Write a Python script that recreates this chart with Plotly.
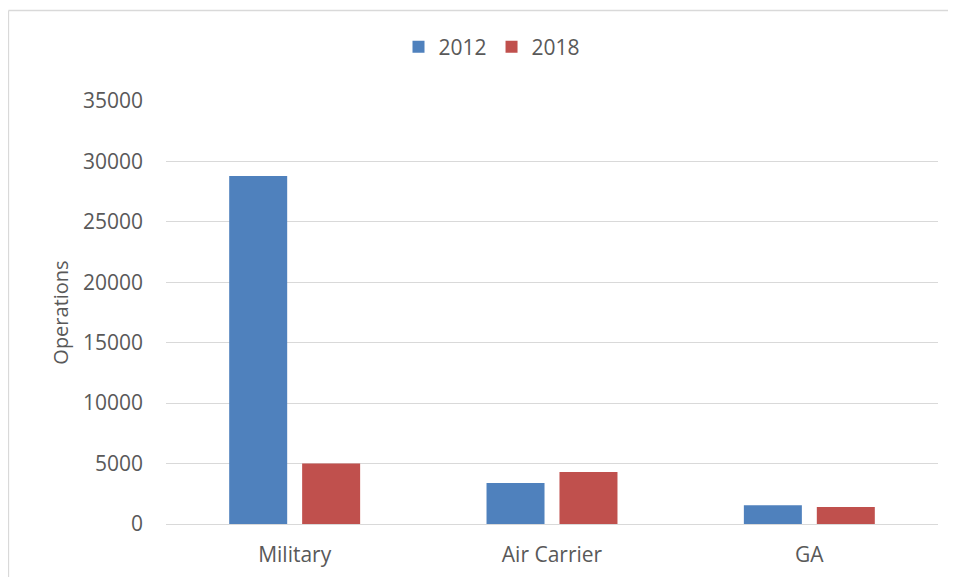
import plotly.graph_objects as go

categories = ["Military", "Air Carrier", "GA"]
series_names = ["2012", "2018"]
values_2012 = [28800, 3400, 1550]
values_2018 = [5000, 4300, 1400]
y_ticks = [0, 5000, 10000, 15000, 20000, 25000, 30000, 35000]
colors = ["#4f81bd", "#c0504d"]

OFF = 8  # page body margin
W, H = 956 - 2 * OFF, 585 - 2 * OFF
# target plot area in page pixels: x 166..938, y 101..524
L = 166 - OFF
T = 101 - OFF
R = W - (938 - OFF)
B = H - (524 - OFF)
pw, ph = W - L - R, H - T - B

def px(x):
    return (x - OFF - L) / pw

def py(y):
    return (H - B - (y - OFF)) / ph

fig = go.Figure()
for name, vals, col in zip(series_names, [values_2012, values_2018], colors):
    fig.add_trace(go.Bar(x=categories, y=vals, name=name, marker_color=col,
                         marker_line_width=0))

font = dict(family="Open Sans", size=21, color="#595959")
title_font = dict(family="Open Sans", size=20, color="#595959")

fig.update_layout(
    width=W, height=H,
    margin=dict(l=L, r=R, t=T, b=B, pad=0),
    paper_bgcolor="white", plot_bgcolor="white",
    font=font,
    barmode="group", bargap=0.433, bargroupgap=0.205,
    showlegend=True,
    legend=dict(orientation="h", x=px(492), y=py(47), xanchor="center", yanchor="middle",
                font=font, itemwidth=30, traceorder="normal", bgcolor="rgba(0,0,0,0)"),
    xaxis=dict(showgrid=False, showline=False, ticks="", tickfont=font,
               ticklabelstandoff=16),
    yaxis=dict(range=[0, 35000], tickvals=y_ticks, ticktext=[str(v) for v in y_ticks],
               showgrid=True, gridcolor="#d9d9d9", gridwidth=1.3,
               zeroline=True, zerolinecolor="#d9d9d9", zerolinewidth=1.3,
               showline=False, ticks="", tickfont=font, ticklabelstandoff=22,
               title=dict(text="Operations", font=title_font, standoff=8)),
)

# outer chart border: top and left edges only
border = dict(color="#d9d9d9", width=1.3)
fig.add_shape(type="line", xref="paper", yref="paper",
              x0=px(8.5), x1=px(948), y0=py(10.5), y1=py(10.5), line=border, layer="below")
fig.add_shape(type="line", xref="paper", yref="paper",
              x0=px(8.5), x1=px(8.5), y0=py(10.5), y1=py(580), line=border, layer="below")

fig.write_html("out.html")
